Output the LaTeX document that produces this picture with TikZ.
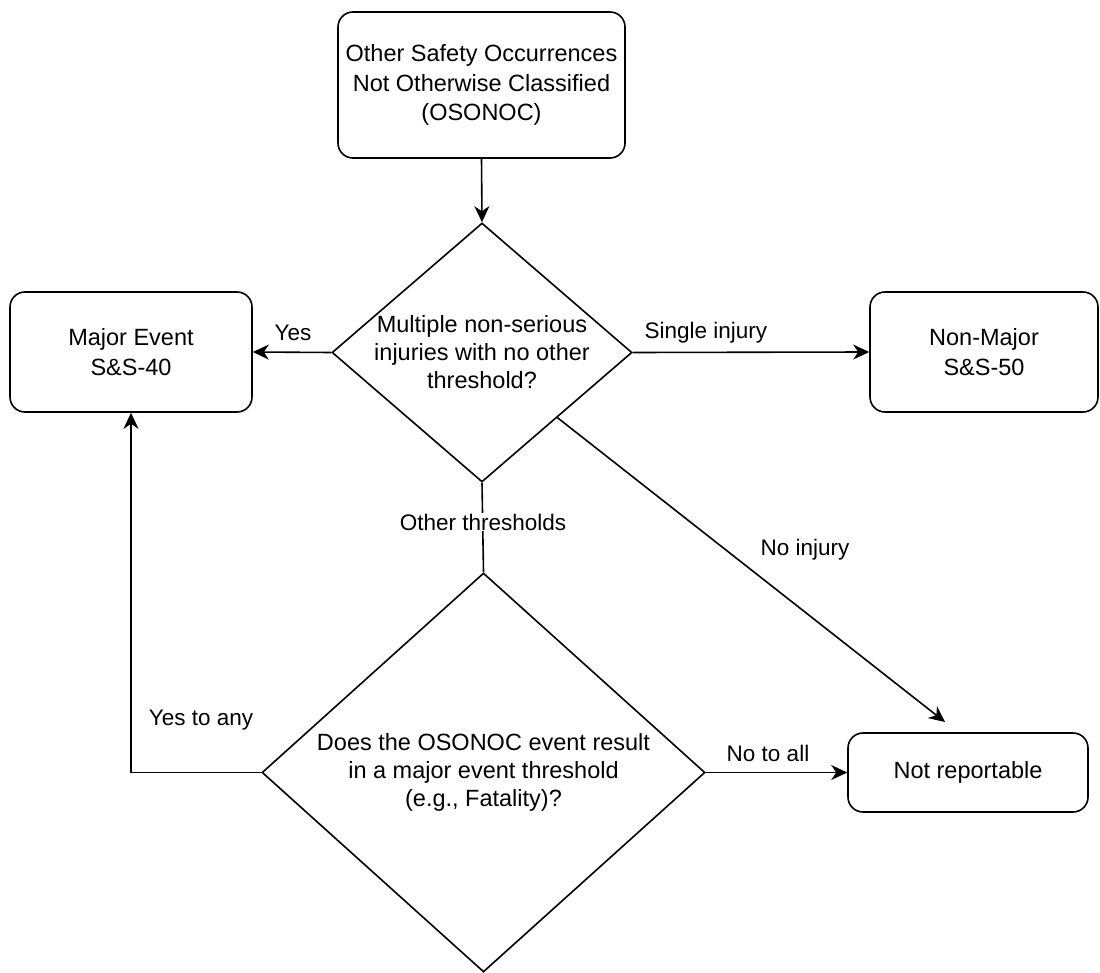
\documentclass[tikz,border=0pt]{standalone}
\usepackage{fontspec}
\setmainfont{Liberation Sans}
\usetikzlibrary{shapes.geometric,arrows.meta,calc}
\tikzset{
  boxnode/.style={draw, line width=1.6pt, rounded corners=15pt, inner sep=0pt, align=center,
    font=\fontsize{23.5}{29.5}\selectfont},
  decnode/.style={draw, shape=diamond, line width=1.6pt, inner sep=0pt},
  dectext/.style={align=center, inner sep=0pt, font=\fontsize{23.5}{28}\selectfont},
  conn/.style={line width=1.6pt, -{Stealth[length=16pt,width=15pt,inset=5pt]}},
  plainconn/.style={line width=1.6pt},
  edgelabel/.style={inner sep=1pt, font=\fontsize{22.5}{27}\selectfont},
}
\begin{document}
\begin{tikzpicture}[x=1pt,y=-1pt]
\useasboundingbox (0,0) rectangle (1100,973);
\node[boxnode, minimum width=287pt, minimum height=146pt] (top) at (481.5,85)
  {Other Safety Occurrences\\Not Otherwise Classified\\(OSONOC)};
\node[decnode, minimum width=300pt, minimum height=259pt] (d1) at (482,352.5) {};
\node[dectext] (d1text) at (482,352.5) {Multiple non-serious\\injuries with no other\\threshold?};
\node[boxnode, minimum width=242pt, minimum height=120pt] (major) at (131,352)
  {Major Event\\S\&S-40};
\node[boxnode, minimum width=228pt, minimum height=120pt] (nonmajor) at (984,352)
  {Non-Major\\S\&S-50};
\node[decnode, minimum width=443pt, minimum height=399pt] (d2) at (483.5,772.5) {};
\node[dectext] (d2text) at (483.5,772.5) {Does the OSONOC event result\\in a major event threshold\\(e.g., Fatality)?};
\node[boxnode, minimum width=240pt, minimum height=79pt] (notrep) at (968,772.5)
  {Not reportable};
\coordinate (noinjend) at (945,722);

\draw[conn] (top.south) -- (d1.north);
\draw[conn] (d1.west) -- (major.east);
\draw[conn] (d1.east) -- (nonmajor.west);
\draw[plainconn] (d1.south) -- (d2.north);
\draw[conn] ($(d1.east)!0.5!(d1.south)$) -- (noinjend);
\draw[conn] (d2.west) -| (major.south);
\draw[conn] (d2.east) -- (notrep.west);

\node[edgelabel] (lyes) at (293,333) {Yes};
\node[edgelabel] (lsingle) at (706,333) {Single injury};
\node[edgelabel, fill=white] (lother) at (483,522) {Other thresholds};
\node[edgelabel] (lnoinj) at (805,550) {No injury};
\node[edgelabel] (lyesany) at (201,720) {Yes to any};
\node[edgelabel] (lnoall) at (768,753) {No to all};
\end{tikzpicture}
\end{document}
